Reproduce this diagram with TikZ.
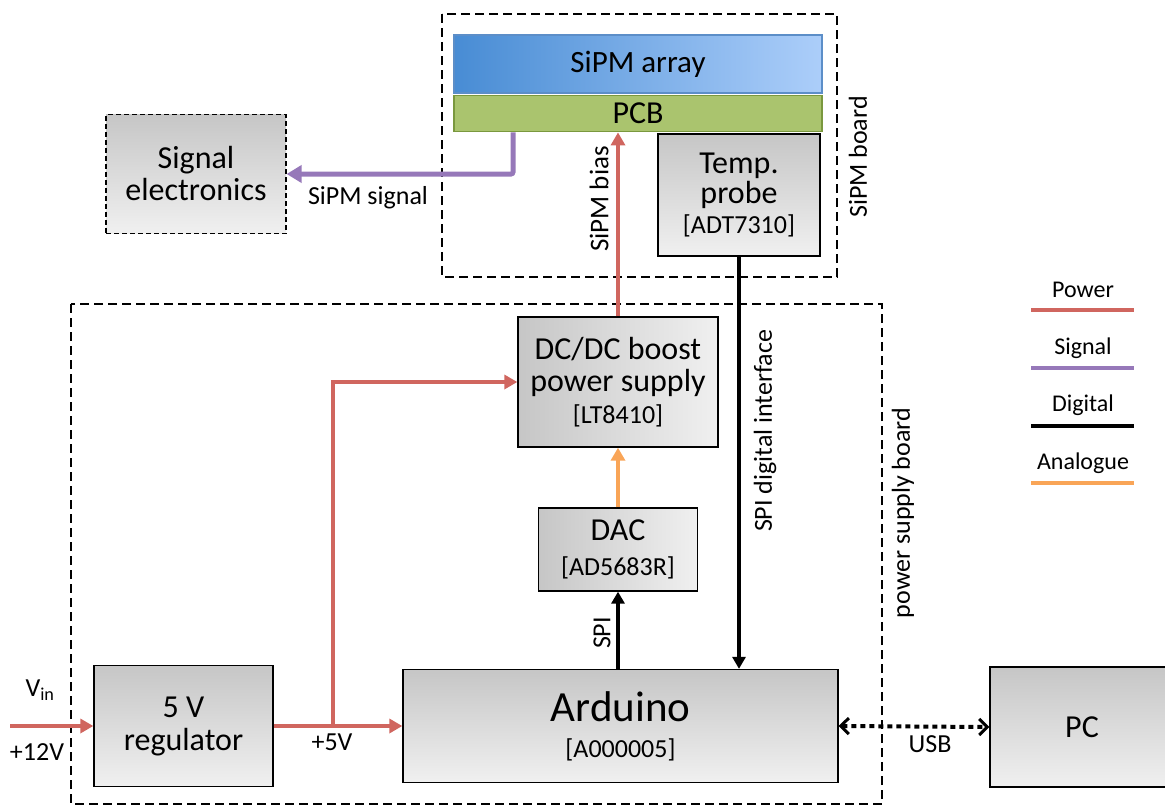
\documentclass[tikz,border=0pt]{standalone}
\usepackage{fontspec}
\setmainfont{Carlito}
\usetikzlibrary{arrows.meta}
\newcommand\fsz[2]{\fontsize{#1}{#2}\selectfont}
\definecolor{pwr}{RGB}{208,102,95}
\definecolor{sgn}{RGB}{150,120,185}
\definecolor{anl}{RGB}{249,165,87}
\definecolor{gtop}{RGB}{198,198,198}
\definecolor{gbot}{RGB}{240,240,240}
\definecolor{blueL}{RGB}{72,140,212}
\definecolor{blueR}{RGB}{172,206,250}
\definecolor{blueB}{RGB}{92,142,200}
\definecolor{pcbF}{RGB}{170,196,110}
\definecolor{pcbB}{RGB}{122,152,62}
\tikzset{
  vblk/.style={draw=black, line width=1.3pt, inner sep=0pt, align=center,
    top color=gtop, bottom color=gbot, font=\fsz{32}{33}},
  hblk/.style={draw=black, line width=1.3pt, inner sep=0pt, align=center,
    left color=gtop, right color=gbot, font=\fsz{32}{33}},
  frame/.style={draw=black, line width=1.2pt, dash pattern=on 9pt off 5pt},
  pw/.style={draw=pwr, line width=4pt, -{Triangle[length=13pt,width=14pt]}},
  sg/.style={draw=sgn, line width=5pt, -{Triangle[length=15pt,width=17pt]}},
  an/.style={draw=anl, line width=4pt, -{Triangle[length=13pt,width=14pt]}},
  dg/.style={draw=black, line width=4pt, -{Triangle[length=12pt,width=13pt]}},
  usb/.style={draw=black, line width=4pt, dash pattern=on 5pt off 4pt,
    {Straight Barb[length=8pt,width=16pt,line width=3pt]}-{Straight Barb[length=8pt,width=16pt,line width=3pt]}},
  lbl/.style={font=\fsz{26}{30}, inner sep=0pt},
  leg/.style={font=\fsz{24}{28}, inner sep=0pt},
}
\begin{document}
\begin{tikzpicture}[x=1pt,y=-1pt]
\useasboundingbox (0,0) rectangle (1165,806);
% frames
\draw[frame] (442,14) rectangle (837,277);
\draw[frame] (71,304) rectangle (882,804);
% SiPM board
\node (arr) at (638,64) [draw=blueB, line width=1.8pt, left color=blueL, right color=blueR,
  minimum width=368pt, minimum height=58pt, inner sep=0pt, font=\fsz{31}{33}] {SiPM array};
\node (pcb) at (638,113.5) [draw=pcbB, line width=1.8pt, fill=pcbF,
  minimum width=368pt, minimum height=36pt, inner sep=0pt, font=\fsz{32}{33}] {PCB};
\node (temp) at (739,195) [vblk, minimum width=162pt, minimum height=122pt, font=\fsz{32}{30}]
  {Temp.\\probe\\{\fsz{26}{31}[ADT7310]}};
\node (sigel) at (196,174) [vblk, dash pattern=on 5pt off 3pt, line width=1.2pt,
  minimum width=180pt, minimum height=119pt, font=\fsz{32}{32}] {Signal\\electronics};
% power supply board
\node (dcdc) at (618,382) [hblk, minimum width=200pt, minimum height=130pt, font=\fsz{32}{32}]
  {DC/DC boost\\power supply\\{\fsz{26}{35}[LT8410]}};
\node (dac) at (618,549.5) [hblk, minimum width=159pt, minimum height=83pt, font=\fsz{32}{35}]
  {DAC\\{\fsz{26}{35}[AD5683R]}};
\node (ard) at (620.5,726) [vblk, minimum width=435pt, minimum height=113pt, font=\fsz{43}{36}]
  {Arduino\\{\fsz{26}{36}[A000005]}};
\node (reg) at (183.5,726) [vblk, minimum width=179pt, minimum height=121pt, font=\fsz{32}{33}]
  {5 V\\regulator};
\node (pc) at (1082,727) [vblk, minimum width=184pt, minimum height=120pt] {PC};
% connectors
\coordinate (vin) at (10,726);
\coordinate (br) at (333,726);
\draw[pw] (vin) -- (reg.west);
\draw[pw] (reg.east) -- (ard.west);
\draw[pw] (br) |- (dcdc.west);
\draw[pw] (dcdc.north) -- (pcb.south -| dcdc.north);
\draw[an] (dac.north) -- (dcdc.south);
\draw[dg] (ard.north -| dac.south) -- (dac.south);
\draw[dg] (temp.south) -- (temp.south |- ard.north);
\draw[sg, rounded corners=2pt] ([xshift=-125pt]pcb.south) |- (sigel.east);
\draw[usb] (ard.east) -- (pc.west);
% labels
\node (l1) at (368,198) [lbl] {SiPM signal};
\node (l2) at (599,199) [lbl, font=\fsz{27}{30}, rotate=90] {SiPM bias};
\node (l3) at (602,633) [lbl, rotate=90] {SPI};
\node (l4) at (765,431) [lbl, rotate=90] {SPI digital interface};
\node (l5) at (903,513) [lbl, rotate=90] {power supply board};
\node (l6) at (858,157) [lbl, rotate=90] {SiPM board};
\node (l7) at (40,690) [lbl] {V\textsubscript{in}};
\node (l8) at (37,752) [lbl] {+12V};
\node (l9) at (332,742) [lbl] {+5V};
\node (l10) at (930,744) [lbl] {USB};
% legend
\node (lp) at (1083,290) [leg] {Power};
\node (ls) at (1083,348) [leg] {Signal};
\node (ld) at (1083,405) [leg] {Digital};
\node (la) at (1083,463) [leg] {Analogue};
\coordinate (p1) at (1031,310); \coordinate (p2) at (1134,310);
\coordinate (s1) at (1031,368); \coordinate (s2) at (1134,368);
\coordinate (d1) at (1031,426); \coordinate (d2) at (1134,426);
\coordinate (a1) at (1031,483); \coordinate (a2) at (1134,483);
\draw[draw=pwr, line width=4pt] (p1) -- (p2);
\draw[draw=sgn, line width=4pt] (s1) -- (s2);
\draw[draw=black, line width=4pt] (d1) -- (d2);
\draw[draw=anl, line width=4pt] (a1) -- (a2);
\end{tikzpicture}
\end{document}
